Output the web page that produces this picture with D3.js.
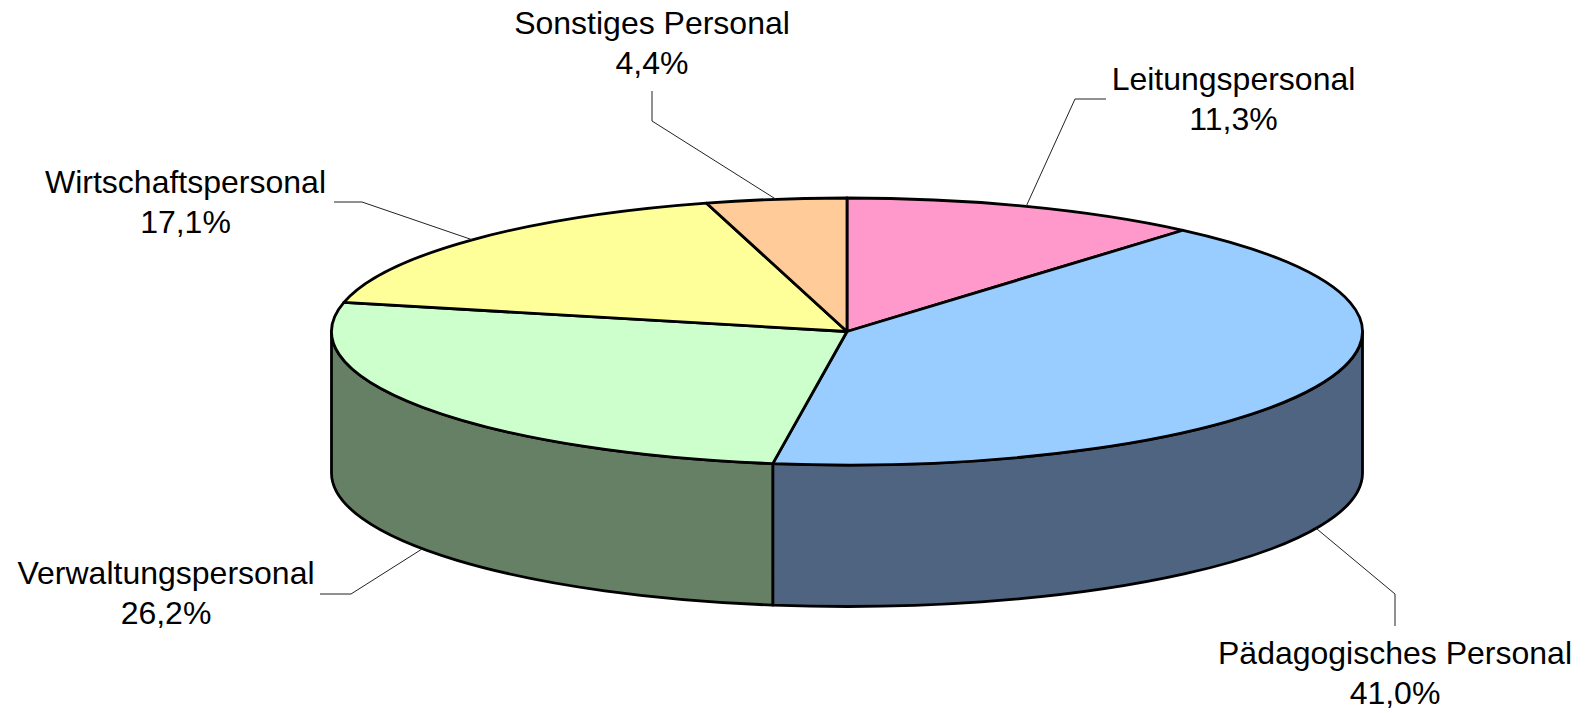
<!DOCTYPE html>
<html><head><meta charset="utf-8">
<script src="https://cdn.jsdelivr.net/npm/d3@7"></script>
<style>html,body{margin:0;padding:0;background:#fff}svg{display:block}text{font-family:"Liberation Sans",Arial,sans-serif;font-size:32px;fill:#000}</style>
</head><body><div id="c"></div>
<script>
const categories = ["Leitungspersonal","Pädagogisches Personal","Verwaltungspersonal","Wirtschaftspersonal","Sonstiges Personal"];
const values = [11.3,41.0,26.2,17.1,4.4];
const topColors = ["#FF99CC","#99CCFF","#CCFFCC","#FFFF99","#FFCC99"];
const sideColors = ["#804D66","#4F6480","#668066","#80804D","#80664D"];
// label anchor (centre x, first baseline) and leader elbow/end, in page pixels
const labelPos = [[1233.5,90],[1395,664],[166,584],[185.5,193],[652,34]];
const elbows = [[1075,99],[1395,594],[351,594],[362,202],[652,121]];
const ends = [[1106,99],[1395,626],[320,594],[334,202],[652,91]];

const W=1585,H=713,cx=847,cy=331.5,rx=515.5,ry=133.5,depth=141.5;
const svg=d3.select("#c").append("svg").attr("width",W).attr("height",H);
const arcs=d3.pie().sort(null).value(d=>d)(values);
const X=d3.scaleLinear().domain([-1,1]).range([cx-rx,cx+rx]);
const Y=d3.scaleLinear().domain([-1,1]).range([cy-ry,cy+ry]);
const px=a=>X(Math.sin(a)), py=a=>Y(-Math.cos(a));
const PI=Math.PI;

// sides (visible front half only)
arcs.forEach((d,i)=>{
  const a0=Math.max(d.startAngle,PI/2), a1=Math.min(d.endAngle,3*PI/2);
  if(a1<=a0) return;
  const large=(a1-a0)>PI?1:0;
  const p=`M${px(a0)},${py(a0)}A${rx},${ry} 0 ${large} 1 ${px(a1)},${py(a1)}`+
    `L${px(a1)},${py(a1)+depth}A${rx},${ry} 0 ${large} 0 ${px(a0)},${py(a0)+depth}Z`;
  svg.append("path").attr("d",p).attr("fill",sideColors[i]).attr("stroke","#000").attr("stroke-width",2.8).attr("stroke-linejoin","round");
});
// top faces
arcs.forEach((d,i)=>{
  const large=(d.endAngle-d.startAngle)>PI?1:0;
  const p=`M${cx},${cy}L${px(d.startAngle)},${py(d.startAngle)}A${rx},${ry} 0 ${large} 1 ${px(d.endAngle)},${py(d.endAngle)}Z`;
  svg.append("path").attr("d",p).attr("fill",topColors[i]).attr("stroke","#000").attr("stroke-width",2.8).attr("stroke-linejoin","round");
});
// leaders
arcs.forEach((d,i)=>{
  const m=(d.startAngle+d.endAngle)/2;
  const front=Math.cos(m)<0;
  const start=[px(m),py(m)+(front?depth:0)];
  svg.append("path").attr("d",d3.line()([start,elbows[i],ends[i]])).attr("fill","none").attr("stroke","#222").attr("stroke-width",1);
});
// labels
categories.forEach((c,i)=>{
  const fmt=values[i].toFixed(1).replace(".",",")+"%";
  const t=svg.append("text").attr("text-anchor","middle").attr("x",labelPos[i][0]).attr("y",labelPos[i][1]);
  t.append("tspan").attr("x",labelPos[i][0]).text(c);
  t.append("tspan").attr("x",labelPos[i][0]).attr("dy",39.5).text(fmt);
});
</script></body></html>
